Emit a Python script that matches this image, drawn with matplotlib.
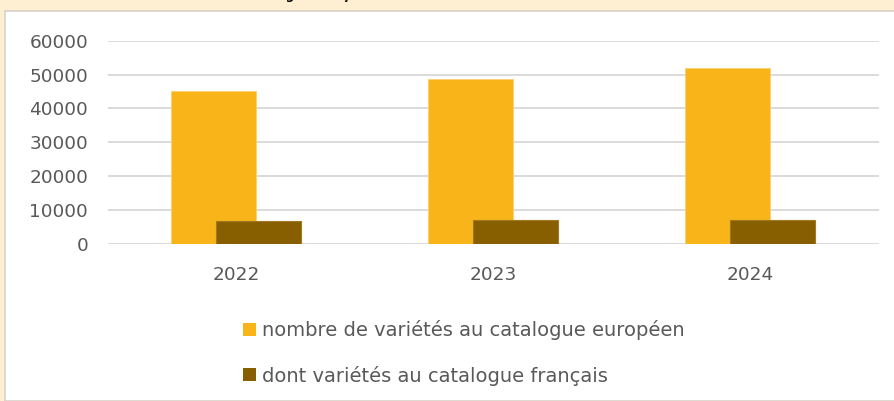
import matplotlib
matplotlib.use("Agg")
import matplotlib.pyplot as plt
import numpy as np
from matplotlib.patches import Rectangle, Patch

years = ["2022", "2023", "2024"]
europe = [45300, 48600, 51800]
france = [6800, 7200, 7100]
series_labels = ["nombre de variétés au catalogue européen",
                 "dont variétés au catalogue français"]
title = "Évolution du catalogue français"

ORANGE = "#F8B418"
BROWN = "#875F00"
GRAY = "#595959"

plt.rcParams['font.family'] = ['DejaVu Sans']

W, H = 894, 401
fig = plt.figure(figsize=(W / 100, H / 100), dpi=100)
fig.patch.set_facecolor("#FFEFD2")

# white panel
fig.patches.append(Rectangle((5 / W, 0), 1.0, 1 - 11 / H, transform=fig.transFigure,
                             facecolor="white", edgecolor="#D8D2C8", linewidth=1.2,
                             zorder=-5))

# clipped title (only descenders visible)
fig.text(157 / W, 1 + 1.5 / H, title, fontsize=8.6, fontweight="bold", color="black",
         ha="left", va="baseline", zorder=-4)

left, right, top, bottom = 107.5, 878.5, 40.7, 244
ax = fig.add_axes([left / W, 1 - bottom / H, (right - left) / W, (bottom - top) / H])
ax.set_facecolor("none")
ax.set_zorder(2)

x = np.arange(len(years))
bw = 0.331
off = 0.087
ax.bar(x - off, europe, bw, color=ORANGE, edgecolor="#FBD070", linewidth=0.6,
       zorder=2, label=series_labels[0])
ax.bar(x + off, france, bw, color=BROWN, edgecolor="#A07A22", linewidth=0.8,
       zorder=3, label=series_labels[1])

ax.set_xlim(-0.5, len(years) - 0.5)
ax.set_ylim(0, 60000)
ax.set_yticks(np.arange(0, 60001, 10000))
ax.set_yticklabels([str(v) for v in range(0, 60001, 10000)])
ax.set_xticks(x)
ax.set_xticklabels(years)
ax.yaxis.grid(True, color="#DADADA", linewidth=1.4, zorder=0)
ax.set_axisbelow(True)
for s in ax.spines.values():
    s.set_visible(False)
ax.tick_params(axis="both", length=0, colors=GRAY, labelsize=13.3)
ax.tick_params(axis="y", pad=14)
ax.tick_params(axis="x", pad=16)

handles = [Patch(facecolor=ORANGE, edgecolor="none"),
           Patch(facecolor=BROWN, edgecolor="none")]
leg = fig.legend(handles, series_labels, loc="upper left",
                 bbox_to_anchor=(243 / W, 1 - 320 / H), frameon=False,
                 fontsize=14, handlelength=0.66, handleheight=0.66,
                 handletextpad=0.32, labelspacing=1.32, borderpad=0, borderaxespad=0)
for t in leg.get_texts():
    t.set_color(GRAY)

fig.savefig("out.png", dpi=100, facecolor=fig.get_facecolor())
